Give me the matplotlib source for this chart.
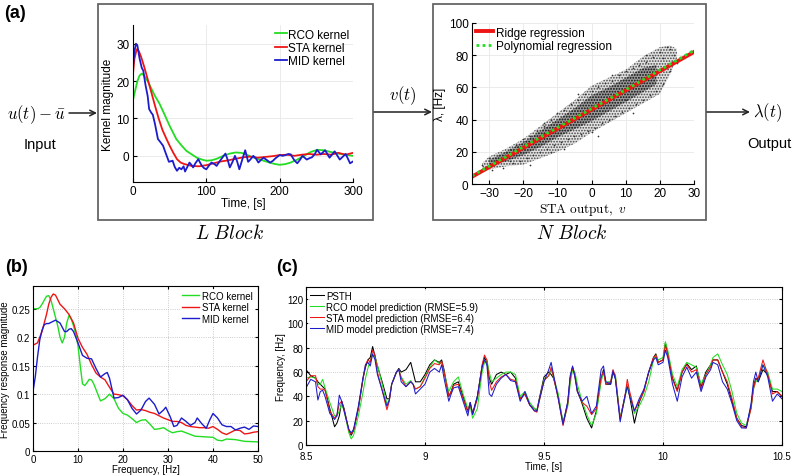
import matplotlib
matplotlib.use("Agg")
import matplotlib.pyplot as plt

plt.rcParams['font.family'] = ['Liberation Sans', 'DejaVu Sans']
plt.rcParams['mathtext.fontset'] = 'cm'
plt.rcParams['hatch.linewidth'] = 0.8

# ---------------- data: panel (a) kernels ----------------
rco_t = [0,3,6,9,12,15,20,25,30,36,42,50,59,66,73,80,87,94,100,107,114,123,132,140,148,
         155,162,170,178,186,194,200,208,215,224,233,242,251,260,270,280,290,300]
rco_k = [15,17.5,20,21.5,22,21.5,20,18,16,14,11.5,8,4.5,2.8,1.3,0.4,-0.5,-1,-1.3,-1.2,-0.8,0,0.6,0.9,0.8,
         0.3,-0.3,-0.8,-1.3,-1.8,-2.2,-2.4,-2.2,-1.8,-1,0,1,1.6,1.5,1,0.6,0.3,0]
sta_t = [0,2,5,8,11,15,20,25,30,35,40,45,50,55,60,65,70,80,90,100,110,120,130,140,150,
         160,170,180,190,200,210,220,230,240,250,260,270,280,290,300]
sta_k = [22,26,28.5,28,26.5,24,20.5,17,13.4,10,7,4.8,2.7,0.8,-0.9,-1.8,-2.2,-2.7,-2.8,-2.5,-2,-1.5,-1.2,-0.8,-0.4,
         -0.2,-0.5,-0.3,-0.1,0.2,0.3,0,0.3,0.5,0.3,0.5,0.3,0.8,0.3,0.8]
mid_t = [0,2,4,6,9,12,14,17,20,22,25,27,30,34,38,41,45,49,54,57,60,63,66,69,71,74,77,80,82,85,
         89,92,94,97,100,104,107,111,114,118,121,126,129,132,136,139,142,145,149,153,157,160,164,168,171,
         175,178,183,187,191,194,200,204,208,212,215,220,224,228,231,234,237,241,244,248,251,256,262,268,275,
         282,290,296,300]
mid_k = [24,28,30,29.5,26,23.5,22.8,19,16,12.5,11.5,11,8.5,4.5,3.5,2.7,0.5,-1.6,-1.3,-3,-4,-3.2,-3.6,-2.8,-4.2,
         -3,-1.8,-2.5,-3.1,-2,-0.9,-2,-2.7,-3.3,-3.6,-2.5,-1.8,-2.2,-2.7,-1.5,-0.7,0.6,-1,-3.1,-1.5,0,-1.5,-3.6,
         -1,1.5,-1.6,-1,0,-0.8,-1.8,-1,-0.5,-1.2,-1.8,-1.3,-0.7,0.2,0,0.2,0.5,0.4,-1.2,-2,-1,0,-0.5,-1,-0.6,
         -0.4,0.5,1.6,0.4,1.5,-0.5,1.2,-1,0.5,-2,-1.5]

# ---------------- data: panel (a) nonlinearity ----------------
outer_x = [-32,-30,-25,-20,-15,-10,-5,0,5,10,15,20,23,25]
outer_lo = [8,9,11,12,16,20,25,32,38,44,50,56,68,78]
outer_hi = [13,17,22,28,36,44,52,61,66,71,79,85,86,84]
core_x = [-30,-25,-20,-15,-10,-5,0,5,10,15,19]
core_lo = [11,14,18,23,29,34,39,45,51,57,62]
core_hi = [15,20,26,33,40,47,55,60,66,72,74]
pts_x = [-33,-32,-30,-29,-28,-27,-26,-25,-24,-23,-22,-21,-20,-19,-18,-17,-16,-15,-14,-13,-12,-11,-10,-9,
         -8,-7,-6,-5,-4,-3,-2,-1,0,1,2,3,4,5,6,7,8,9,10,11,12,13,14,15,16,17,18,19,20,21,22,23,24,25,
         -18,-8,2,12,-14,-4,6,16,23,21,-24,-12,0,10]
pts_y = [8,12,16,9,15,18,10,20,22,13,24,14,28,16,30,18,33,20,36,22,40,24,44,26,
         46,28,50,30,52,31,56,33,58,35,60,38,63,40,64,42,68,45,70,47,72,50,74,52,76,55,79,58,82,62,85,70,80,75,
         12,22,30,44,38,56,68,80,84,78,14,20,32,52]
ridge_x = [-35, 30]
ridge_y = [4.5, 82]
poly_x = [-35, -10, 10, 30]
poly_y = [5, 35, 58.5, 83]

# ---------------- data: panel (b) ----------------
rco_f = [0,1,1.5,2,2.5,3,3.5,4,4.5,5,5.5,6,6.5,7,7.5,8,8.5,9,9.5,10,10.5,11,11.5,12,12.5,13,13.5,14,15,16,
         17,18,19,20,21,22,23,24,25,26,27,28,29,30,31,32,33,34,36,38,40,41,42,43,45,47,50]
rco_m = [0.25,0.25,0.252,0.258,0.265,0.272,0.273,0.265,0.25,0.235,0.22,0.2,0.19,0.2,0.225,0.238,0.232,0.22,
         0.205,0.185,0.15,0.118,0.115,0.12,0.126,0.125,0.118,0.108,0.088,0.092,0.1,0.092,0.075,0.066,0.063,
         0.057,0.05,0.054,0.055,0.047,0.038,0.039,0.041,0.036,0.032,0.034,0.035,0.032,0.026,0.025,0.024,0.019,
         0.018,0.021,0.02,0.017,0.016]
sta_f = [0,1,2,3,3.5,4,4.5,5,5.5,6,7,8,9,10,11,12,13,14,15,16,17,18,19,20,21,22,23,24,25,26,27,28,29,30,
         31,32,33,34,35,36,37,38,39,40,41,42,43,44,45,46,47,48,49,50]
sta_m = [0.186,0.19,0.21,0.24,0.258,0.27,0.276,0.274,0.266,0.258,0.25,0.24,0.225,0.198,0.182,0.17,0.152,
         0.137,0.13,0.125,0.112,0.1,0.099,0.097,0.09,0.08,0.072,0.073,0.071,0.068,0.066,0.062,0.058,0.055,
         0.052,0.052,0.05,0.045,0.043,0.042,0.041,0.041,0.04,0.043,0.038,0.032,0.029,0.033,0.037,0.036,0.03,
         0.031,0.033,0.034]
mid_f = [0,0.5,1,1.5,2,2.5,3,3.5,4,5,6,7,7.5,8,8.5,9,10,11,12,13,14,15,16,16.5,17,18,19,20,21,22,23,24,25,
         25.8,27,28,29,29.5,30.5,31.3,32,33,34,35,36,36.5,37.5,38.5,39.3,40,41,42,43,44,45,46,47,48,49,50]
mid_m = [0.105,0.13,0.165,0.195,0.212,0.222,0.224,0.224,0.226,0.23,0.225,0.21,0.21,0.214,0.215,0.21,0.19,
         0.168,0.163,0.162,0.145,0.13,0.136,0.138,0.128,0.093,0.094,0.098,0.09,0.075,0.065,0.072,0.087,0.093,
         0.082,0.065,0.072,0.077,0.06,0.043,0.045,0.058,0.052,0.045,0.05,0.058,0.048,0.04,0.055,0.066,0.058,
         0.046,0.043,0.043,0.037,0.04,0.042,0.038,0.044,0.043]

# ---------------- data: panel (c) ----------------
t_c = [8.50,8.52,8.54,8.55,8.56,8.57,8.58,8.60,8.62,8.63,
       8.64,8.65,8.66,8.68,8.69,8.70,8.72,8.74,8.75,8.76,
       8.77,8.78,8.79,8.80,8.82,8.84,8.85,8.86,8.88,8.89,
       8.90,8.92,8.94,8.95,8.96,8.98,9.00,9.02,9.04,9.06,
       9.07,9.08,9.10,9.11,9.12,9.14,9.16,9.18,9.19,9.20,
       9.22,9.24,9.25,9.26,9.27,9.28,9.30,9.32,9.34,9.36,
       9.38,9.40,9.42,9.44,9.46,9.47,9.48,9.50,9.52,9.53,
       9.54,9.56,9.58,9.60,9.61,9.62,9.63,9.64,9.66,9.68,
       9.70,9.72,9.74,9.75,9.76,9.78,9.79,9.80,9.82,9.84,
       9.85,9.86,9.88,9.90,9.92,9.94,9.96,9.97,9.98,10.00,
       10.01,10.02,10.04,10.06,10.08,10.10,10.12,10.14,10.16,10.18,
       10.20,10.21,10.23,10.25,10.27,10.29,10.31,10.33,10.35,10.37,
       10.38,10.39,10.40,10.42,10.44,10.46,10.48,10.50]
psth = [62,57,55,52,50,48,46,30,15,18,
        24,36,30,12,8,12,30,55,64,70,
        72,81,73,65,52,38,38,50,60,63,
        60,62,68,60,52,52,58,66,70,68,
        70,62,40,44,50,52,40,28,35,26,
        40,65,72,68,55,50,58,60,58,60,
        55,38,42,33,30,28,38,56,60,58,
        55,40,18,35,55,64,58,45,34,22,
        14,28,55,62,50,50,60,55,22,40,
        50,40,18,35,45,60,72,75,68,70,
        84,75,55,45,60,67,62,65,48,60,
        66,70,70,60,50,36,22,16,15,32,
        48,55,52,62,58,44,44,40]
rco_p = [55,56,55,50,50,54,47,35,24,24,
         28,34,28,10,5,8,24,44,55,63,
         70,74,72,66,50,34,37,50,60,62,
         56,50,53,50,46,48,56,64,70,67,
         68,60,44,48,52,56,42,30,32,22,
         30,60,68,70,60,52,55,58,60,60,
         58,40,44,35,30,29,36,54,57,62,
         56,42,18,32,50,62,60,50,36,25,
         16,26,52,60,52,52,60,58,22,38,
         50,42,26,32,40,52,70,74,70,72,
         85,78,58,48,62,68,66,64,50,58,
         66,72,75,66,58,44,26,18,16,30,
         46,52,54,66,60,46,46,44]
sta_p = [52,57,57,48,46,46,45,28,22,25,
         34,36,29,12,9,12,30,55,66,70,
         68,78,74,60,45,29,36,50,60,62,
         55,48,52,50,46,48,55,63,67,66,
         69,60,40,44,49,50,38,27,34,25,
         38,66,74,70,52,45,52,56,58,54,
         53,38,42,33,28,27,36,53,57,64,
         56,38,16,34,55,64,56,44,35,32,
         25,30,56,60,50,52,62,56,21,40,
         54,44,28,36,44,60,72,74,68,70,
         82,75,54,44,60,66,60,62,46,58,
         64,70,70,60,52,38,22,15,14,30,
         46,54,55,70,58,42,44,40]
mid_p = [47,54,52,37,44,45,40,26,21,24,
         41,36,28,13,10,13,32,56,66,68,
         65,75,70,58,45,32,37,50,60,62,
         52,48,52,50,42,46,50,60,63,60,
         66,55,36,42,47,48,36,24,35,25,
         40,64,70,66,42,40,50,55,58,53,
         52,36,44,33,28,28,37,52,62,68,
         58,38,17,36,57,65,56,44,36,40,
         26,32,62,65,52,50,61,54,19,40,
         48,40,28,38,46,60,70,72,66,68,
         78,72,50,36,56,64,55,60,44,56,
         62,68,66,52,46,34,20,14,14,34,
         52,60,52,66,56,36,42,38]

G = '#22dd22'
R = '#ee1515'
B = '#1c1ccc'

W, H = 800, 477
fig = plt.figure(figsize=(8, 4.77), dpi=100)

def rect(x0, y0, x1, y1):
    return [x0 / W, 1 - y1 / H, (x1 - x0) / W, (y1 - y0) / H]

# overlay for boxes, arrows and free text (pixel coordinates)
ov = fig.add_axes([0, 0, 1, 1], zorder=0)
ov.set_xlim(0, W)
ov.set_ylim(H, 0)
ov.axis('off')
ov.add_patch(plt.Rectangle((98, 5), 275, 216, fill=False, ec='#666666', lw=1.3))
ov.add_patch(plt.Rectangle((433, 5), 273, 216, fill=False, ec='#666666', lw=1.3))
arr = dict(arrowstyle='->', lw=1.1, color='#222222', shrinkA=0, shrinkB=0)
ov.annotate('', xy=(97, 114), xytext=(69, 114), arrowprops=arr)
ov.annotate('', xy=(432, 113), xytext=(374, 113), arrowprops=arr)
ov.annotate('', xy=(750, 113), xytext=(707, 113), arrowprops=arr)
ov.text(36, 115, r'$u(t)-\bar{u}$', fontsize=12, ha='center', va='center')
ov.text(40, 145, 'Input', fontsize=10.5, ha='center', va='center')
ov.text(403, 96, r'$v(t)$', fontsize=12, ha='center', va='center')
ov.text(768, 113, r'$\lambda(t)$', fontsize=12, ha='center', va='center')
ov.text(769, 144, 'Output', fontsize=10.5, ha='center', va='center')
ov.text(230, 234, r'$L\ Block$', fontsize=14, ha='center', va='center')
ov.text(572, 234, r'$N\ Block$', fontsize=14, ha='center', va='center')
ov.text(4, 13, '(a)', fontsize=13, fontweight='bold', ha='left', va='center')
ov.text(5, 268, '(b)', fontsize=13, fontweight='bold', ha='left', va='center')
ov.text(276, 268, '(c)', fontsize=13, fontweight='bold', ha='left', va='center')

# ---------------- kernel axes ----------------
axk = fig.add_axes(rect(133, 26, 353, 183), zorder=1)
axk.plot(rco_t, rco_k, color=G, lw=1.3, label='RCO kernel')
axk.plot(sta_t, sta_k, color=R, lw=1.3, label='STA kernel')
axk.plot(mid_t, mid_k, color=B, lw=1.3, label='MID kernel')
axk.set_xlim(0, 300)
axk.set_ylim(-7, 35)
axk.set_xticks([0, 100, 200, 300])
axk.set_yticks([0, 10, 20, 30])
for s in ['top', 'right']:
    axk.spines[s].set_visible(False)
axk.grid(True, color='#e8e8e8', lw=0.6)
axk.set_axisbelow(True)
axk.tick_params(labelsize=8.5, direction='in', length=3, pad=2.5)
axk.set_xlabel('Time, [s]', fontsize=8.5, labelpad=0)
axk.set_ylabel('Kernel magnitude', fontsize=8.5, labelpad=2)
axk.legend(loc='upper right', frameon=False, fontsize=8.5, handlelength=1.0,
           handletextpad=0.1, labelspacing=0.1, borderaxespad=0.0, borderpad=0.3)

# ---------------- nonlinearity axes ----------------
axs = fig.add_axes(rect(472, 24, 694, 185), zorder=1)
axs.fill_between(outer_x, outer_lo, outer_hi, facecolor='#888888', alpha=0.25, lw=0)
axs.fill_between(outer_x, outer_lo, outer_hi, facecolor='none', edgecolor='#444444',
                 hatch='......', lw=0)
axs.fill_between(core_x, core_lo, core_hi, facecolor='#444444', alpha=0.45, lw=0)
axs.fill_between(core_x, core_lo, core_hi, facecolor='none', edgecolor='#222222',
                 hatch='......', lw=0)
axs.scatter(pts_x, pts_y, s=1.5, color='#333333', lw=0)
axs.plot(ridge_x, ridge_y, color=R, lw=2.8, label='Ridge regression')
axs.plot(poly_x, poly_y, color=G, lw=2, ls=(0, (1, 1.2)), label='Polynomial regression')
axs.set_xlim(-35, 30)
axs.set_ylim(0, 100)
axs.set_xticks([-30, -20, -10, 0, 10, 20, 30])
axs.set_yticks([0, 20, 40, 60, 80, 100])
for s in ['top', 'right']:
    axs.spines[s].set_visible(False)
axs.grid(True, color='#e8e8e8', lw=0.6)
axs.set_axisbelow(True)
axs.tick_params(labelsize=8.5, direction='in', length=3, pad=2.5)
axs.set_xlabel(r'$\mathrm{STA\ output,}\ v$', fontsize=9.5, labelpad=1)
axs.set_ylabel('λ, [Hz]', fontsize=8.5, labelpad=2)
axs.legend(loc='upper left', frameon=False, fontsize=8.5, handlelength=1.5,
           handletextpad=0.2, labelspacing=0.1, borderaxespad=0.1, borderpad=0.2)

# ---------------- panel (b) ----------------
axb = fig.add_axes(rect(33, 287, 258, 452), zorder=1)
axb.plot(rco_f, rco_m, color=G, lw=1, label='RCO kernel')
axb.plot(sta_f, sta_m, color=R, lw=1, label='STA kernel')
axb.plot(mid_f, mid_m, color=B, lw=1, label='MID kernel')
axb.set_xlim(0, 50)
axb.set_ylim(0, 0.29)
axb.set_xticks([0, 10, 20, 30, 40, 50])
axb.set_yticks([0, 0.05, 0.1, 0.15, 0.2, 0.25])
axb.set_yticklabels(['0', '0.05', '0.1', '0.15', '0.2', '0.25'])
axb.grid(True, color='#bbbbbb', lw=0.6, ls=':')
axb.set_axisbelow(True)
axb.tick_params(labelsize=7, direction='in', length=2.5, pad=2, top=True, right=True)
axb.set_xlabel('Frequency, [Hz]', fontsize=7, labelpad=0)
axb.set_ylabel('Frequency response magnitude', fontsize=7, labelpad=1)
lb = axb.legend(loc='upper right', frameon=True, fontsize=7, handlelength=1.8,
                handletextpad=0.3, labelspacing=0.15, borderaxespad=0.3, borderpad=0.2, fancybox=False)
lb.get_frame().set_edgecolor('none')

# ---------------- panel (c) ----------------
axc = fig.add_axes(rect(306, 288, 782, 446), zorder=1)
axc.plot(t_c, psth, color='black', lw=0.75, label='PSTH')
axc.plot(t_c, rco_p, color=G, lw=0.75, label='RCO model prediction (RMSE=5.9)')
axc.plot(t_c, sta_p, color=R, lw=0.75, label='STA model prediction (RMSE=6.4)')
axc.plot(t_c, mid_p, color=B, lw=0.75, label='MID model prediction (RMSE=7.4)')
axc.set_xlim(8.5, 10.5)
axc.set_ylim(0, 130)
axc.set_xticks([8.5, 9, 9.5, 10, 10.5])
axc.set_xticklabels(['8.5', '9', '9.5', '10', '10.5'])
axc.set_yticks([0, 20, 40, 60, 80, 100, 120])
axc.grid(True, color='#bbbbbb', lw=0.6, ls=':')
axc.set_axisbelow(True)
axc.tick_params(labelsize=7, direction='in', length=2.5, pad=2, top=True, right=True)
axc.tick_params(axis='x', pad=4.5)
axc.set_xlabel('Time, [s]', fontsize=7, labelpad=0)
axc.set_ylabel('Frequency, [Hz]', fontsize=7, labelpad=1)
lc = axc.legend(loc='upper left', frameon=True, fontsize=7, handlelength=1.4,
                handletextpad=0.3, labelspacing=0.1, borderaxespad=0.2, borderpad=0.2, fancybox=False)
lc.get_frame().set_edgecolor('none')

fig.savefig('out.png', dpi=100)
